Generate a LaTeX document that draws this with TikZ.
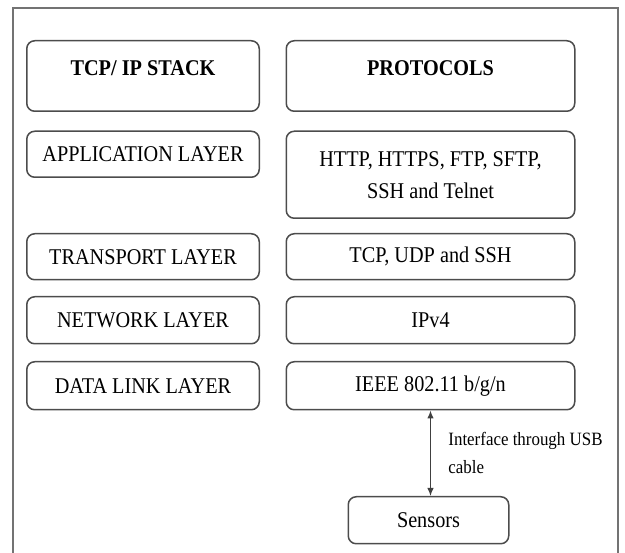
\documentclass[tikz,border=0pt]{standalone}
\usepackage{fontspec}
\setmainfont{Liberation Serif}[FakeStretch=0.9]
\usetikzlibrary{arrows.meta, positioning}

\begin{document}
\begin{tikzpicture}[x=1pt, y=-1pt,
    font=\fontsize{22.5}{32}\selectfont,
    box/.style={draw=black!70, line width=1.5pt, rounded corners=8pt,
        align=center, inner sep=0pt},
    layerbox/.style={box, minimum width=232.5pt, minimum height=46pt},
    protobox/.style={box, minimum width=288.5pt, minimum height=46pt},
    headbox/.style={box, font=\fontsize{22.5}{32}\selectfont\bfseries,
        minimum height=70.5pt, text height=15pt, text depth=15pt}]

\useasboundingbox (0,0) rectangle (625,553);
% Outer frame, open at the bottom
\draw[black!55, line width=1.2pt] (13,553) |- (618,8) -- (618,553);

% Column heads
\node[headbox, minimum width=232.5pt] (head1) at (143,76) {TCP/ IP STACK};
\node[headbox, minimum width=288.5pt, right=25.5pt of head1] (head2) {PROTOCOLS};

% Protocols
\node[protobox, below=18.5pt of head2, minimum height=87pt] (proto1)
    {HTTP, HTTPS, FTP, SFTP,\\ SSH and Telnet};
\node[protobox, below=14pt of proto1] (proto2) {TCP, UDP and SSH};
\node[protobox, below=15.5pt of proto2, minimum height=47pt] (proto3) {IPv4};
\node[protobox, below=16.5pt of proto3, minimum height=48pt] (proto4) {IEEE 802.11 b/g/n};

% Layers
\node[layerbox, left=25.5pt of proto1.north west, anchor=north east,
    minimum height=46pt] (layer1) {APPLICATION LAYER};
\node[layerbox, left=25.5pt of proto2] (layer2) {TRANSPORT LAYER};
\node[layerbox, left=25.5pt of proto3, minimum height=47pt] (layer3) {NETWORK LAYER};
\node[layerbox, left=25.5pt of proto4, minimum height=48pt] (layer4) {DATA LINK LAYER};

% Sensors
\node[box, below=85.5pt of proto4, xshift=-2pt,
    minimum width=160.5pt, minimum height=47pt] (sensors) {Sensors};

% Arrows
\draw[{Latex[length=8pt,width=6.5pt]}-{Latex[length=8pt,width=6.5pt]}, black!75, line width=1.2pt]
    (proto4.south) -- (proto4.south |- sensors.north)
    node[midway, right=14pt, align=left, text=black, font=\fontsize{18.8}{28}\selectfont]
    {Interface through USB\\ cable};

\end{tikzpicture}
\end{document}
